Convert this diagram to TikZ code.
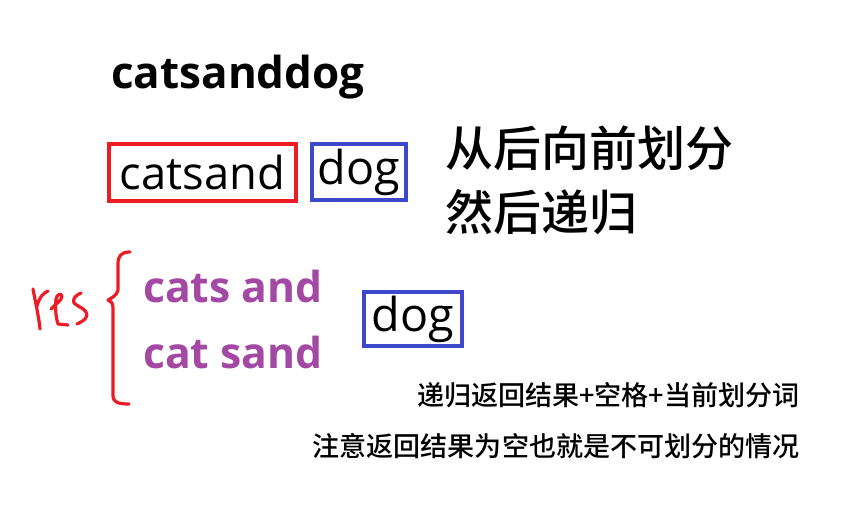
\documentclass[tikz,border=0pt]{standalone}
\usepackage{fontspec}
\setmainfont{Open Sans}
\newfontfamily\cjk{Noto Sans CJK SC Medium}
\usepackage{tikz}
\usetikzlibrary{positioning}
\definecolor{paintred}{HTML}{ED1C24}
\definecolor{paintblue}{HTML}{3F48CC}
\definecolor{paintpurple}{HTML}{A349A4}
\tikzset{
  word/.style={inner sep=0pt, font=\fontsize{33}{38}\selectfont\bfseries},
  split/.style={rectangle, draw=#1, line width=3pt, inner sep=0pt, font=\fontsize{34}{40}\selectfont},
  result/.style={inner sep=0pt, anchor=base west, text=paintpurple, font=\fontsize{32}{38}\selectfont\bfseries},
  note/.style={inner sep=0pt, font=\fontsize{36}{40}\selectfont\cjk},
  smallnote/.style={inner sep=0pt, anchor=east, font=\fontsize{20.3}{24}\selectfont\cjk},
  hand/.style={paintred, line width=2.4pt, line cap=round, line join=round}
}

\begin{document}
\begin{tikzpicture}[x=0.75pt, y=-0.75pt]
    \useasboundingbox (0,0) rectangle (845,518);
    % Nodes
    \node[word, anchor=base west] (whole) at (111,88) {catsanddog};
    \node[split=paintred, minimum width=140pt, minimum height=43pt] (left) at (202.5,172.5) {catsand};
    \node[split=paintblue, minimum width=71pt, minimum height=42pt, font=\fontsize{35}{40}\selectfont] (right) at (359,172) {dog};
    \node[note, anchor=west] (idea) at (445,148.5) {从后向前划分};
    \node[note, anchor=west] (recur) at (445,212.5) {然后递归};
    \node[result] (resa) at (143,302) {cats and};
    \node[result] (resb) at (143,368) {cat sand};
    \node[split=paintblue, minimum width=74pt, minimum height=41pt, font=\fontsize{35}{40}\selectfont] (tail) at (413,319) {dog};
    \node[smallnote] (rule) at (800,395.5) {递归返回结果+空格+当前划分词};
    \node[smallnote] (empty) at (800,446.5) {注意返回结果为空也就是不可划分的情况};

    % Hand-drawn brace and label
    \draw[hand] (130,252) .. controls (121,252) and (118,256) .. (118,264) -- (118,290)
        .. controls (117,295) and (112,298) .. (108,300) .. controls (111,301) and (113,303) .. (113,308)
        -- (113,396) .. controls (113,402) and (118,404) .. (129,404);
    \draw[hand] (33,289) .. controls (36,305) and (39,318) .. (40,329);
    \draw[hand] (37,306) .. controls (39,298) and (43,293) .. (48,291);
    \draw[hand] (51,309) .. controls (56,304) and (62,300) .. (62,296) .. controls (61,293) and (57,294) .. (56,299)
        .. controls (55,308) and (56,318) .. (58,324) -- (68,325);
    \draw[hand] (81,293) .. controls (76,295) and (72,299) .. (74,303) .. controls (78,307) and (87,309) .. (87,315)
        .. controls (86,320) and (81,322) .. (77,324);
\end{tikzpicture}
\end{document}
